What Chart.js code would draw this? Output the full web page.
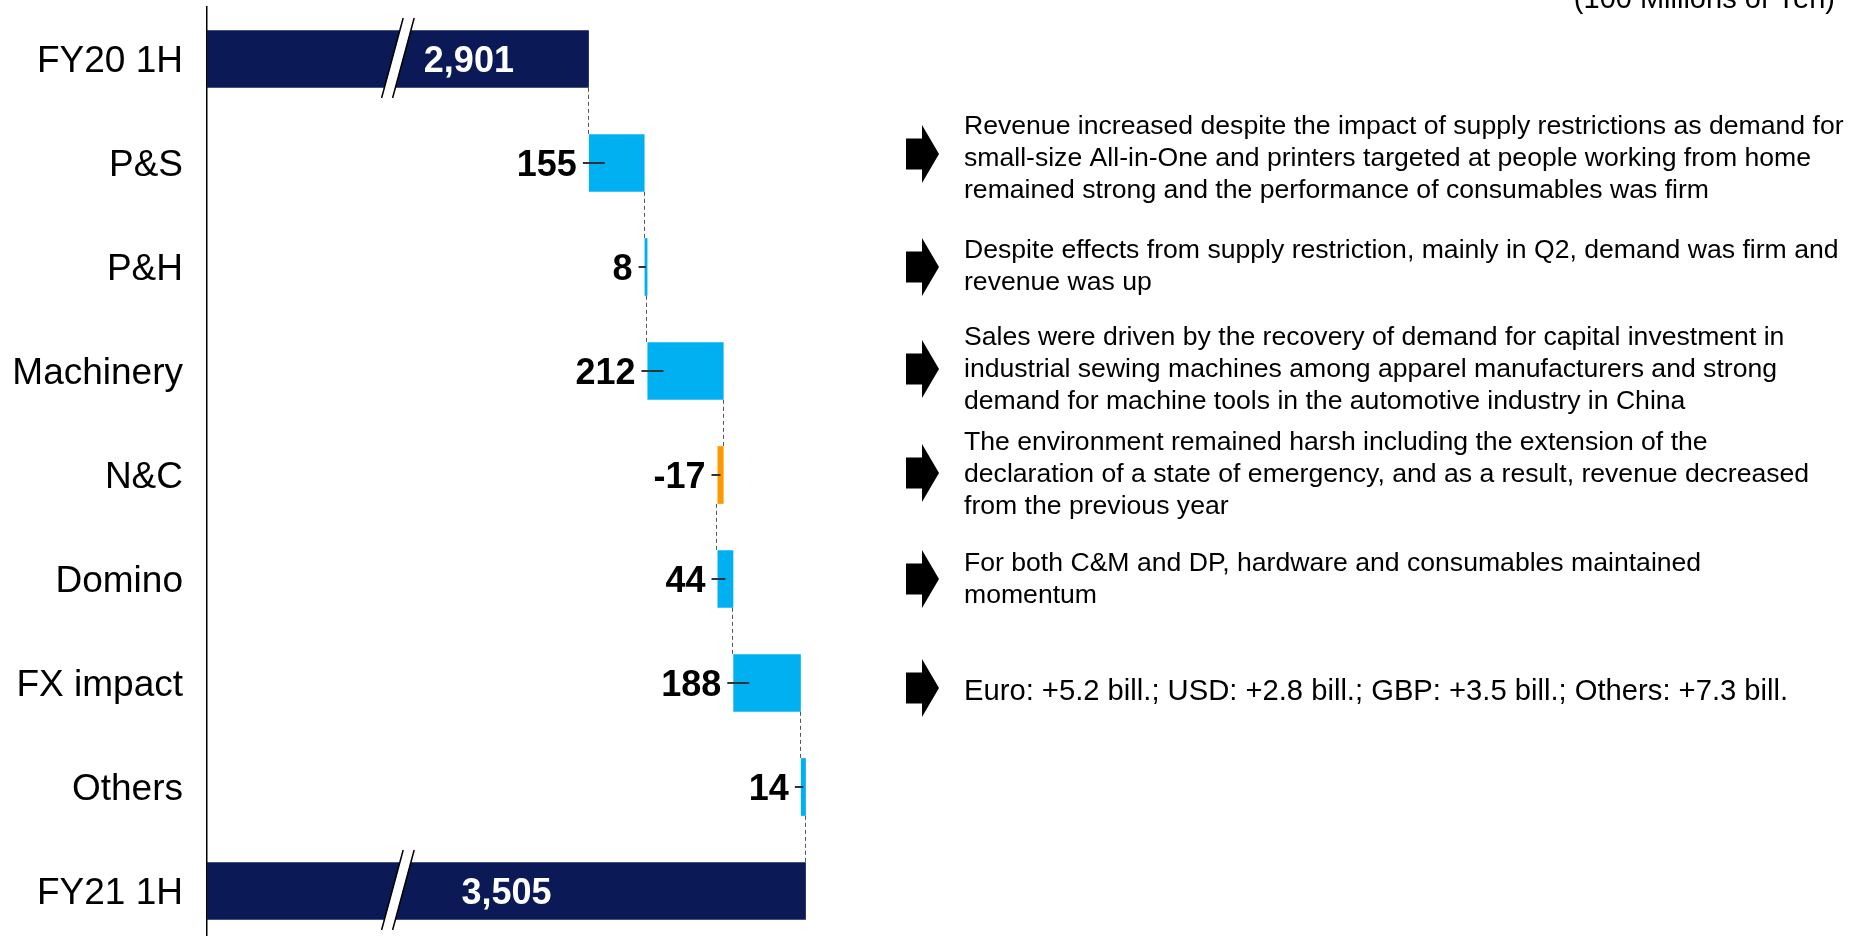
<!DOCTYPE html>
<html>
<head>
<meta charset="utf-8">
<script src="https://cdn.jsdelivr.net/npm/chart.js@4"></script>
<style>
  html, body { margin: 0; padding: 0; background: #fff; overflow: hidden; }
  #wrap { position: relative; width: 1856px; height: 936px; overflow: hidden; }
  #myChart { position: absolute; left: 0; top: 0; }
  #unit { position: absolute; right: 21px; top: -16px; font: 29px 'Liberation Sans', Arial, sans-serif; line-height: 1; color: #000; }
</style>
</head>
<body>
<div id="wrap">
  <canvas id="myChart" width="1856" height="944"></canvas>
  <div id="unit">(100 Millions of Yen)</div>
</div>
<script>
const categories = ['FY20 1H', 'P&S', 'P&H', 'Machinery', 'N&C', 'Domino', 'FX impact', 'Others', 'FY21 1H'];
const startTotal = 2901;
const deltas = [155, 8, 212, -17, 44, 188, 14];
const endTotal = 3505;
const valueLabels = ['2,901', '155', '8', '212', '-17', '44', '188', '14', '3,505'];
const notes = [
    ['Revenue increased despite the impact of supply restrictions as demand for',
     'small-size All-in-One and printers targeted at people working from home',
     'remained strong and the performance of consumables was firm'],
    ['Despite effects from supply restriction, mainly in Q2, demand was firm and',
     'revenue was up'],
    ['Sales were driven by the recovery of demand for capital investment in',
     'industrial sewing machines among apparel manufacturers and strong',
     'demand for machine tools in the automotive industry in China'],
    ['The environment remained harsh including the extension of the',
     'declaration of a state of emergency, and as a result, revenue decreased',
     'from the previous year'],
    ['For both C&M and DP, hardware and consumables maintained',
     'momentum'],
    ['Euro: +5.2 bill.; USD: +2.8 bill.; GBP: +3.5 bill.; Others: +7.3 bill.']
];
// layout of the comment column (not data)
const noteSizes = [26.6, 26.6, 26.6, 26.6, 26.6, 29.2];
const noteShift = [-4, 0, -1, 0, 1, 9];
const arrowShift = [-9, 0, -2, -2, 0, 5];

const NAVY = '#0B1A56';
const CYAN = '#00B0F0';
const ORANGE = '#FF9900';
const FONT = "'Liberation Sans', Arial, sans-serif";

// floating bars for the steps, plain bars for the two totals
const ranges = [startTotal];
const colors = [NAVY];
const runEnds = [startTotal];
let run = startTotal;
deltas.forEach(d => {
    ranges.push([run, run + d]);
    colors.push(d < 0 ? ORANGE : CYAN);
    run += d;
    runEnds.push(run);
});
ranges.push(endTotal);
colors.push(NAVY);

const axisMin = 1838;
const axisMax = 3703;
const breakAt = 2370;
const firstLabelAt = 2567;

const extras = {
    id: 'extras',
    afterDatasetsDraw(chart) {
        const c = chart.ctx;
        const xs = chart.scales.x;
        const ys = chart.scales.y;
        const meta = chart.getDatasetMeta(0);
        const half = meta.data[0].height / 2;
        const x0 = xs.getPixelForValue(axisMin);
        c.save();

        // dashed connectors
        c.strokeStyle = '#555';
        c.lineWidth = 1;
        c.setLineDash([4, 3]);
        for (let i = 0; i < categories.length - 1; i++) {
            const x = Math.round(xs.getPixelForValue(runEnds[i])) - 0.5;
            c.beginPath();
            c.moveTo(x, ys.getPixelForValue(i) + half);
            c.lineTo(x, ys.getPixelForValue(i + 1) - half);
            c.stroke();
        }
        c.setLineDash([]);

        // axis break marks on the totals
        [0, categories.length - 1].forEach(i => {
            const cy = ys.getPixelForValue(i);
            const bx = xs.getPixelForValue(breakAt);
            const top = cy - 41, bot = cy + 39;
            const k = 0.27;
            const x1b = bx - 6 - (bot - cy) * k, x1t = bx - 6 + (cy - top) * k;
            c.fillStyle = '#fff';
            c.beginPath();
            c.moveTo(x1b, bot);
            c.lineTo(x1t, top);
            c.lineTo(x1t + 11, top);
            c.lineTo(x1b + 11, bot);
            c.closePath();
            c.fill();
            c.strokeStyle = '#000';
            c.lineWidth = 1.5;
            c.beginPath();
            c.moveTo(x1b, bot); c.lineTo(x1t, top);
            c.moveTo(x1b + 11, bot); c.lineTo(x1t + 11, top);
            c.stroke();
        });

        // value labels
        c.font = 'bold 36px ' + FONT;
        c.textBaseline = 'middle';
        meta.data.forEach((bar, i) => {
            const cy = bar.y;
            if (i === 0 || i === categories.length - 1) {
                c.fillStyle = '#fff';
                c.textAlign = 'center';
                const cx = i === 0 ? xs.getPixelForValue(firstLabelAt) : (bar.x + x0) / 2;
                c.fillText(valueLabels[i], cx, cy + 3);
                return;
            }
            const left = Math.min(bar.x, bar.base);
            const w = Math.abs(bar.x - bar.base);
            c.strokeStyle = '#333';
            c.lineWidth = 2;
            c.beginPath();
            c.moveTo(left - 6, cy);
            c.lineTo(left + Math.min(16, w / 2), cy);
            c.stroke();
            c.fillStyle = '#000';
            c.textAlign = 'right';
            c.fillText(valueLabels[i], left - 12, cy + 3);
        });

        // arrows and comments
        c.textAlign = 'left';
        notes.forEach((lines, k) => {
            const cy = ys.getPixelForValue(k + 1);
            const ay = cy + arrowShift[k];
            c.fillStyle = '#000';
            c.beginPath();
            c.moveTo(906, ay - 15.5);
            c.lineTo(922, ay - 15.5);
            c.lineTo(922, ay - 29);
            c.lineTo(939, ay);
            c.lineTo(922, ay + 29);
            c.lineTo(922, ay + 15.5);
            c.lineTo(906, ay + 15.5);
            c.closePath();
            c.fill();
            c.font = noteSizes[k] + 'px ' + FONT;
            const ty = cy + noteShift[k];
            lines.forEach((t, j) => {
                c.fillText(t, 964, ty + (j - (lines.length - 1) / 2) * 32);
            });
        });
        c.restore();
    }
};

new Chart(document.getElementById('myChart'), {
    type: 'bar',
    data: {
        labels: categories,
        datasets: [{
            data: ranges,
            backgroundColor: colors,
            borderWidth: 0,
            barPercentage: 0.555,
            categoryPercentage: 1
        }]
    },
    options: {
        indexAxis: 'y',
        responsive: false,
        animation: false,
        layout: { padding: { top: 7, right: 979, bottom: 1, left: 0 } },
        plugins: {
            legend: { display: false },
            tooltip: { enabled: false }
        },
        scales: {
            x: { display: false, min: axisMin, max: axisMax },
            y: {
                grid: { display: false, drawTicks: false },
                border: { color: '#000', width: 1.5 },
                ticks: {
                    color: '#000',
                    padding: 24,
                    labelOffset: 3,
                    font: { family: FONT, size: 37 }
                },
                afterFit(scale) {
                    scale.width = 207;
                    scale.paddingTop = 0;
                    scale.paddingBottom = 0;
                }
            }
        }
    },
    plugins: [extras]
});
</script>
</body>
</html>
